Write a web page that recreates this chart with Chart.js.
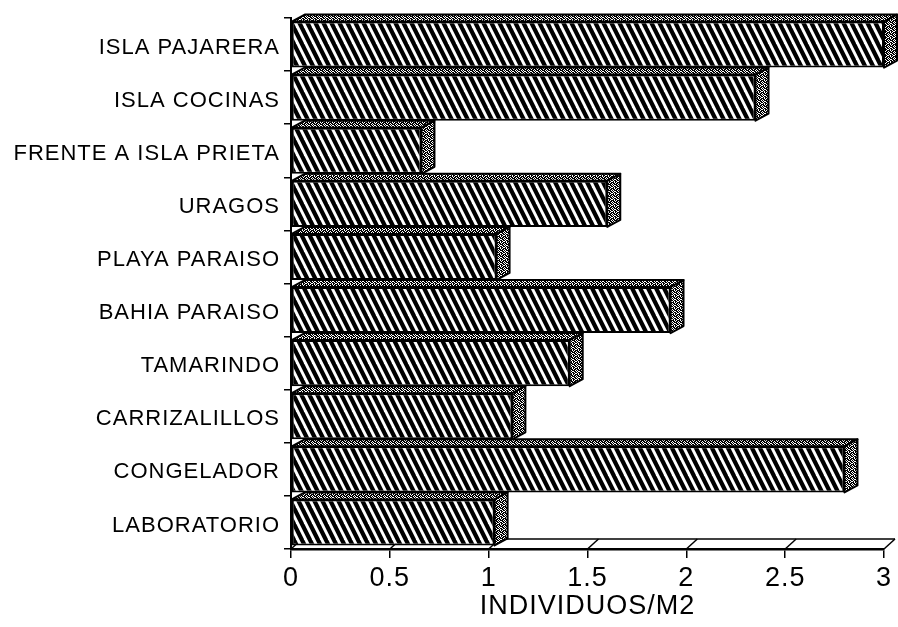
<!DOCTYPE html>
<html>
<head>
<meta charset="utf-8">
<script src="https://cdn.jsdelivr.net/npm/chart.js@4.4.0/dist/chart.umd.min.js"></script>
<style>
  html, body { margin: 0; padding: 0; background: #fff; }
  #wrap { width: 898px; height: 627px; }
</style>
</head>
<body>
<div id="wrap"><canvas id="c" width="898" height="627"></canvas></div>
<script>
// Sampling stations and their mean density (individuals per m2)
const stations = [
  'ISLA PAJARERA',
  'ISLA COCINAS',
  'FRENTE A ISLA PRIETA',
  'URAGOS',
  'PLAYA PARAISO',
  'BAHIA PARAISO',
  'TAMARINDO',
  'CARRIZALILLOS',
  'CONGELADOR',
  'LABORATORIO'
];
const densities = [3.0, 2.35, 0.66, 1.6, 1.04, 1.92, 1.41, 1.12, 2.8, 1.03];
const xTickLabels = ['0', '0.5', '1', '1.5', '2', '2.5', '3'];
const xAxisTitle = 'INDIVIDUOS/M2';

// Depth of the pseudo-3D bars and of the floor strip
const BAR_DX = 13, BAR_DY = 7;
const FLOOR_DX = 11, FLOOR_DY = 10;

const canvas = document.getElementById('c');
const ctx = canvas.getContext('2d');

// Diagonal "\\\" hatching for the bar fronts
function makeHatch() {
  const w = 8, h = 16;
  const c = document.createElement('canvas');
  c.width = w; c.height = h;
  const g = c.getContext('2d');
  g.fillStyle = '#fff';
  g.fillRect(0, 0, w, h);
  g.strokeStyle = '#000';
  g.lineWidth = 4.2;
  for (let k = -2; k <= 2; k++) {
    g.beginPath();
    g.moveTo(k * w - w * 0.5, -h * 0.5);
    g.lineTo(k * w + w * 1.5, h * 1.5);
    g.stroke();
  }
  return ctx.createPattern(c, 'repeat');
}

// Speckled fill for the top and side faces
function makeStipple() {
  const rows = [
    'X.XX.X',
    '.X.XX.',
    'XX.X.X',
    '.XX.XX',
    'X.XXX.',
    '.X..XX'
  ];
  const c = document.createElement('canvas');
  c.width = 6; c.height = 6;
  const g = c.getContext('2d');
  g.fillStyle = '#fff';
  g.fillRect(0, 0, 6, 6);
  g.fillStyle = '#000';
  rows.forEach((r, y) => {
    for (let x = 0; x < r.length; x++) if (r[x] === 'X') g.fillRect(x, y, 1, 1);
  });
  return ctx.createPattern(c, 'repeat');
}

const hatch = makeHatch();
const stipple = makeStipple();

const depthPlugin = {
  id: 'depth',
  beforeDraw(chart) {
    chart.ctx.letterSpacing = '1px';
  },
  beforeDatasetsDraw(chart) {
    const { ctx, chartArea: a, scales: { x } } = chart;
    ctx.save();
    ctx.strokeStyle = '#000';
    ctx.lineWidth = 1.5;
    ctx.beginPath();
    ctx.moveTo(a.left + FLOOR_DX, a.bottom - FLOOR_DY);
    ctx.lineTo(a.right + FLOOR_DX, a.bottom - FLOOR_DY);
    ctx.stroke();
    x.ticks.forEach(t => {
      const px = x.getPixelForValue(t.value);
      ctx.beginPath();
      ctx.moveTo(px, a.bottom);
      ctx.lineTo(px + FLOOR_DX, a.bottom - FLOOR_DY);
      ctx.stroke();
    });
    ctx.restore();
  },
  afterDatasetsDraw(chart) {
    const { ctx } = chart;
    const meta = chart.getDatasetMeta(0);
    ctx.save();
    ctx.strokeStyle = '#000';
    ctx.lineWidth = 2;
    ctx.lineJoin = 'round';
    meta.data.forEach(bar => {
      const { x, y, base, height } = bar.getProps(['x', 'y', 'base', 'height'], true);
      const top = y - height / 2;
      const bottom = y + height / 2;
      // top face
      ctx.beginPath();
      ctx.moveTo(base, top);
      ctx.lineTo(base + BAR_DX, top - BAR_DY);
      ctx.lineTo(x + BAR_DX, top - BAR_DY);
      ctx.lineTo(x, top);
      ctx.closePath();
      ctx.fillStyle = stipple;
      ctx.fill();
      ctx.stroke();
      // side face
      ctx.beginPath();
      ctx.moveTo(x, top);
      ctx.lineTo(x + BAR_DX, top - BAR_DY);
      ctx.lineTo(x + BAR_DX, bottom - BAR_DY);
      ctx.lineTo(x, bottom);
      ctx.closePath();
      ctx.fillStyle = stipple;
      ctx.fill();
      ctx.stroke();
    });
    ctx.restore();
  }
};

new Chart(ctx, {
  type: 'bar',
  data: {
    labels: stations,
    datasets: [{
      data: densities,
      backgroundColor: hatch,
      borderColor: '#000',
      borderWidth: 2,
      borderSkipped: false,
      categoryPercentage: 1,
      barPercentage: 46 / 53
    }]
  },
  options: {
    indexAxis: 'y',
    responsive: false,
    animation: false,
    devicePixelRatio: 1,
    layout: { padding: { top: 18, right: 14, left: 0, bottom: 0 } },
    plugins: {
      legend: { display: false },
      tooltip: { enabled: false }
    },
    scales: {
      x: {
        type: 'linear',
        min: 0,
        max: 3,
        afterFit(s) { s.height = 78; },
        ticks: {
          stepSize: 0.5,
          color: '#000',
          padding: 4,
          font: { family: '"Liberation Sans", Arial, sans-serif', size: 27 },
          callback: (v, i) => xTickLabels[i]
        },
        grid: {
          drawOnChartArea: false,
          drawTicks: true,
          tickLength: 9,
          color: '#000',
          lineWidth: 1.5
        },
        border: { display: true, color: '#000', width: 2.5 },
        title: {
          display: true,
          text: xAxisTitle,
          color: '#000',
          padding: { top: 0, bottom: 4 },
          font: { family: '"Liberation Sans", Arial, sans-serif', size: 27 }
        }
      },
      y: {
        type: 'category',
        afterFit(s) { s.width = 291; },
        ticks: {
          color: '#000',
          padding: 4,
          labelOffset: 3,
          font: { family: '"Liberation Sans", Arial, sans-serif', size: 22 }
        },
        grid: {
          drawOnChartArea: false,
          drawTicks: true,
          tickLength: 7,
          color: '#000',
          lineWidth: 1.5
        },
        border: { display: true, color: '#000', width: 2 }
      }
    }
  },
  plugins: [depthPlugin]
});
</script>
</body>
</html>
